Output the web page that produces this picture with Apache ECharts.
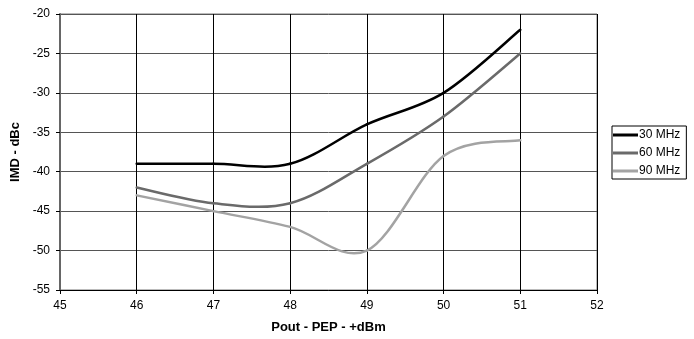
<!DOCTYPE html>
<html>
<head>
<meta charset="utf-8">
<script src="https://cdn.jsdelivr.net/npm/echarts@6/dist/echarts.min.js"></script>
<style>
html,body{margin:0;padding:0;background:#fff;}
#chart{width:694px;height:339px;}
</style>
</head>
<body>
<div id="chart"></div>
<script>
var xValues = [46, 47, 48, 49, 50, 51];
var mhz30 = [-39, -39, -39, -34, -30, -22];
var mhz60 = [-42, -44, -44, -39, -33, -25];
var mhz90 = [-43, -45, -47, -50, -38, -36];
var seriesNames = ['30 MHz', '60 MHz', '90 MHz'];
var seriesColors = ['#000000', '#6a6a6a', '#a3a3a3'];
var xTitle = 'Pout - PEP - +dBm';
var yTitle = 'IMD - dBc';

function pairs(ys) { return xValues.map(function (x, i) { return [x, ys[i]]; }); }

var font = 'Liberation Sans, Arial, sans-serif';
var chart = echarts.init(document.getElementById('chart'), null, {renderer: 'canvas'});
var allData = [mhz30, mhz60, mhz90];

// Excel-like smoothed line: cubic Bezier segments, control points = P +/- (Pnext - Pprev)/6 in pixel space
function makeRender(ys, color) {
  return function (params, api) {
    var i = params.dataIndex;
    var n = ys.length;
    if (i >= n - 1) return null;
    var P = function (k) {
      k = Math.max(0, Math.min(n - 1, k));
      return api.coord([xValues[k], ys[k]]);
    };
    var p0 = P(i - 1), p1 = P(i), p2 = P(i + 1), p3 = P(i + 2);
    return {
      type: 'bezierCurve',
      shape: {
        x1: p1[0], y1: p1[1], x2: p2[0], y2: p2[1],
        cpx1: p1[0] + (p2[0] - p0[0]) / 6, cpy1: p1[1] + (p2[1] - p0[1]) / 6,
        cpx2: p2[0] - (p3[0] - p1[0]) / 6, cpy2: p2[1] - (p3[1] - p1[1]) / 6
      },
      style: {stroke: color, lineWidth: 2.5, fill: null, lineCap: 'round'}
    };
  };
}

chart.setOption({
  animation: false,
  backgroundColor: '#ffffff',
  textStyle: {fontFamily: font},
  grid: {left: 60, top: 14, width: 537, height: 278, show: true, borderColor: '#777777', borderWidth: 1, backgroundColor: 'transparent'},
  legend: {
    orient: 'vertical', left: 612, top: 126,
    data: seriesNames.map(function (n) { return {name: n, icon: 'rect'}; }),
    itemWidth: 25, itemHeight: 3, itemGap: 6,
    borderColor: '#000', borderWidth: 1, padding: [3, 6, 2, 1],
    textStyle: {fontFamily: font, fontSize: 12, color: '#000', padding: [0, 0, 0, -4]}
  },
  xAxis: {
    type: 'value', min: 45, max: 52, interval: 1,
    name: xTitle, nameLocation: 'middle', nameGap: 31,
    nameTextStyle: {fontFamily: font, fontSize: 13, fontWeight: 'bold', color: '#000'},
    axisLine: {show: true, onZero: false, lineStyle: {color: '#000', width: 1}},
    axisTick: {show: true, length: 4, lineStyle: {color: '#000'}},
    axisLabel: {fontFamily: font, fontSize: 12, color: '#000', margin: 10},
    splitLine: {show: true, lineStyle: {color: '#000', width: 1}}
  },
  yAxis: {
    type: 'value', min: -55, max: -20, interval: 5,
    name: yTitle, nameLocation: 'middle', nameGap: 25, nameRotate: 90,
    nameTextStyle: {fontFamily: font, fontSize: 13, fontWeight: 'bold', color: '#000'},
    axisLine: {show: true, onZero: false, lineStyle: {color: '#666', width: 2}},
    axisTick: {show: true, length: 4, lineStyle: {color: '#000'}},
    axisLabel: {fontFamily: font, fontSize: 12, color: '#000', margin: 10},
    splitLine: {show: true, lineStyle: {color: '#555', width: 1}}
  },
  series: seriesNames.map(function (n, i) {
    return {
      name: n, type: 'custom', data: pairs(allData[i]),
      encode: {x: 0, y: 1},
      renderItem: makeRender(allData[i], seriesColors[i]),
      itemStyle: {color: seriesColors[i]},
      z: 5 - i
    };
  })
});
</script>
</body>
</html>
